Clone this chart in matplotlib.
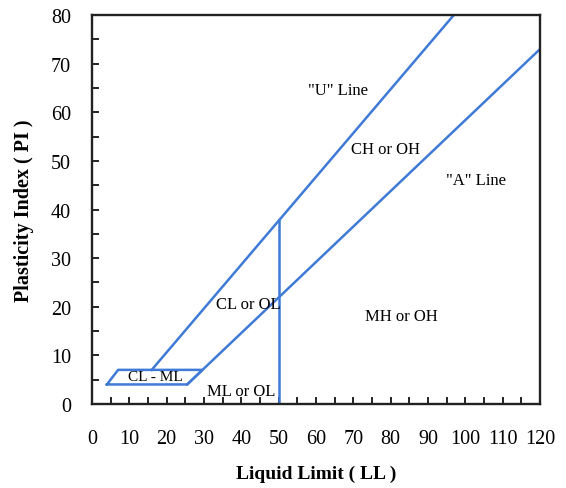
import matplotlib
matplotlib.use("Agg")
import matplotlib.pyplot as plt
import numpy as np
from matplotlib.ticker import MultipleLocator

# Chart values
u_line_ll = [16.0, 96.9]          # "U" line: PI = 0.9 (LL - 8)
u_line_pi = [7.0, 80.0]
a_line_ll = [25.5, 120.0]         # "A" line: PI = 0.73 (LL - 20)
a_line_pi = [4.0, 73.0]
box_ll = [4.0, 7.0, 29.6, 25.5, 4.0]   # CL-ML zone
box_pi = [4.0, 7.0, 7.0, 4.0, 4.0]
vert_ll = [50.0, 50.0]
vert_pi = [0.0, 37.8]

zone_labels = ['"U" Line', 'CH or OH', '"A" Line', 'CL or OL', 'MH or OH', 'CL - ML', 'ML or OL']
zone_ll = [66, 78.5, 103, 42, 83, 17, 40]
zone_pi = [64.5, 52.5, 46, 20.5, 18, 5.7, 2.7]

x_ticks = list(range(0, 121, 10))
y_ticks = list(range(0, 81, 10))

plt.rcParams['font.family'] = ['Liberation Serif', 'DejaVu Serif']

fig = plt.figure(figsize=(5.66, 4.89), dpi=100)
ax = fig.add_axes([0.1625, 0.172, 0.7915, 0.795])

blue = '#3f7ad6'
lw = 1.8
ax.plot(u_line_ll, u_line_pi, color=blue, lw=lw)
ax.plot(a_line_ll, a_line_pi, color=blue, lw=lw)
ax.plot(box_ll, box_pi, color=blue, lw=lw)
ax.plot(vert_ll, vert_pi, color=blue, lw=lw)

for t, x, y in zip(zone_labels, zone_ll, zone_pi):
    fs = 11 if t == 'CL - ML' else 12
    ax.text(x, y, t, fontsize=fs, ha='center', va='center')

ax.set_xlim(0, 120)
ax.set_ylim(0, 80)
ax.set_xticks(x_ticks)
ax.set_yticks(y_ticks)
ax.xaxis.set_minor_locator(MultipleLocator(5))
ax.yaxis.set_minor_locator(MultipleLocator(5))
ax.tick_params(axis='both', which='both', direction='in', length=5, width=1.2,
               labelsize=14.5, top=False, right=False)
ax.tick_params(axis='x', which='major', pad=18)
ax.tick_params(axis='y', which='major', pad=15)
for s in ax.spines.values():
    s.set_linewidth(1.7)
    s.set_color('#222222')

ax.set_xlabel('Liquid Limit ( LL )', fontsize=14, fontweight='bold', labelpad=12)
ax.set_ylabel('Plasticity Index ( PI )', fontsize=14.5, fontweight='bold', labelpad=12)

fig.savefig('out.png', dpi=100)
